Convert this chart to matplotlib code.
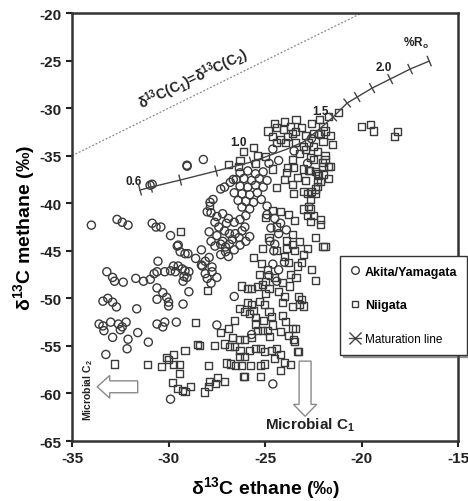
import numpy as np
import matplotlib
matplotlib.use("Agg")
import matplotlib.pyplot as plt
from matplotlib.lines import Line2D
from matplotlib.patches import FancyArrow

plt.rcParams["font.family"] = ["Liberation Sans", "DejaVu Sans"]
plt.rcParams["font.weight"] = "bold"
plt.rcParams["axes.unicode_minus"] = False
plt.rcParams["mathtext.fontset"] = "custom"
plt.rcParams["mathtext.rm"] = "Liberation Sans:bold"
plt.rcParams["mathtext.bf"] = "Liberation Sans:bold"
plt.rcParams["mathtext.it"] = "Liberation Sans:bold"
plt.rcParams["mathtext.default"] = "bf"

# --- data: d13C ethane (x) vs d13C methane (y) ---
akita = [
    (-34.0, -42.3), (-32.67, -41.7), (-32.4, -42.0), (-32.1, -42.3),
    (-30.85, -42.1), (-30.65, -42.5), (-30.4, -42.5), (-29.9, -43.4), (-29.5, -44.4),
    (-30.85, -38.0), (-30.96, -38.1), (-29.05, -36.0), (-28.2, -35.4), (-29.04, -36.1),
    (-27.85, -39.9), (-27.7, -39.6), (-28.0, -40.9),
    (-27.3, -38.5), (-27.1, -38.3), (-26.8, -37.8), (-26.65, -37.5),
    (-29.55, -44.5), (-29.4, -45.1), (-29.15, -45.3), (-29.0, -45.3), (-30.55, -46.1),
    (-33.2, -47.2), (-32.9, -47.8), (-32.8, -48.2), (-32.35, -48.3),
    (-31.7, -47.9), (-31.3, -48.2), (-30.95, -48.0), (-30.75, -47.4), (-30.6, -47.2),
    (-30.2, -47.2), (-29.9, -47.1), (-29.65, -47.2), (-29.75, -46.6), (-29.5, -46.6),
    (-29.3, -46.9), (-29.15, -47.1), (-28.95, -47.2), (-29.05, -47.8), (-29.25, -48.2),
    (-29.2, -47.7), (-30.6, -48.9), (-30.3, -49.4), (-30.1, -49.9), (-30.0, -50.4),
    (-30.0, -50.8), (-30.6, -50.1), (-29.25, -50.6), (-28.95, -49.3),
    (-33.4, -50.3), (-33.15, -50.0), (-32.9, -50.4), (-32.7, -50.9), (-31.65, -51.1),
    (-33.6, -52.7), (-33.4, -52.9), (-33.35, -53.4), (-33.0, -52.5),
    (-32.6, -52.7), (-32.4, -53.0), (-32.2, -52.5), (-32.5, -53.3),
    (-32.9, -54.1), (-32.1, -54.3), (-31.6, -53.6), (-31.05, -54.6), (-32.15, -55.3),
    (-33.25, -55.9), (-30.6, -52.7), (-30.3, -53.0), (-30.2, -52.5), (-29.6, -52.5),
    (-29.9, -60.6), (-27.5, -52.8), (-24.6, -59.0), (-24.4, -48.2),
    (-27.75, -46.7), (-28.1, -46.1), (-27.9, -45.7), (-28.25, -46.6), (-27.75, -47.2),
    (-27.5, -47.8), (-28.1, -47.4),
    (-27.4, -42.5), (-27.1, -42.9), (-26.85, -43.2), (-27.2, -44.0), (-27.05, -44.6),
    (-27.3, -44.3), (-26.85, -44.3), (-26.7, -43.8), (-27.6, -44.5), (-27.05, -45.1),
    (-26.55, -43.2), (-26.35, -43.6), (-26.2, -42.9), (-26.05, -42.5),
    (-24.75, -44.0), (-24.5, -44.3), (-24.55, -45.0), (-26.6, -49.8), (-24.6, -34.3),
    (-26.3, -36.8), (-25.9, -36.6), (-25.5, -36.9), (-25.1, -36.7), (-26.5, -37.5),
    (-26.1, -37.4), (-25.7, -37.6), (-25.3, -37.4), (-24.9, -37.6), (-26.3, -38.2),
    (-25.9, -38.3), (-25.5, -38.1), (-25.1, -38.3), (-26.6, -38.9), (-26.2, -39.0),
    (-25.8, -39.1), (-25.4, -38.9), (-26.4, -39.7), (-26.0, -39.8), (-25.6, -39.9),
    (-25.2, -39.6), (-26.2, -40.4), (-25.8, -40.6), (-24.9, -40.3), (-24.3, -35.5),
    (-24.8, -35.8),
    (-27.8, -41.0), (-27.5, -41.4), (-27.2, -41.1), (-26.9, -41.6), (-27.6, -42.0),
    (-27.0, -42.1), (-26.6, -42.0), (-26.3, -41.7), (-26.0, -41.3), (-27.9, -43.0),
    (-27.5, -43.4), (-26.3, -44.4), (-26.0, -44.0), (-25.8, -43.5), (-26.6, -44.9),
    (-27.3, -45.4), (-26.9, -45.6), (-27.8, -44.0), (-28.3, -44.9), (-28.6, -45.8),
    (-28.3, -46.5), (-28.0, -47.9), (-27.8, -48.4),
    (-24.9, -41.2), (-24.5, -41.6), (-24.2, -42.1), (-24.7, -42.6), (-24.3, -43.2),
    (-23.9, -42.8), (-24.6, -46.4), (-24.3, -47.0), (-24.0, -46.2), (-24.8, -47.6),
    (-25.7, -53.8), (-22.6, -33.2), (-22.2, -32.8), (-23.5, -34.5), (-22.8, -35.8),
]

niigata = [
    (-29.4, -43.0), (-27.9, -40.2), (-21.9, -44.5), (-25.6, -45.7), (-23.3, -55.6),
    (-26.05, -58.2), (-25.25, -58.2), (-23.1, -50.1), (-23.2, -50.6), (-23.45, -53.2),
    (-23.55, -54.3),
    (-32.8, -56.9), (-31.1, -57.0), (-30.35, -57.2), (-30.1, -56.2), (-29.75, -55.9),
    (-30.0, -56.4), (-29.75, -57.0), (-29.45, -57.0), (-29.45, -57.9), (-29.15, -55.5),
    (-29.8, -58.8), (-29.55, -59.5), (-29.3, -59.7), (-29.15, -59.8), (-28.85, -59.3),
    (-28.5, -54.9), (-28.6, -52.5), (-28.0, -49.2), (-27.95, -57.1),
    (-28.15, -59.85), (-27.95, -59.3), (-27.9, -58.7), (-27.55, -59.0), (-27.45, -58.3),
    (-27.1, -58.7), (-27.0, -56.8), (-27.1, -54.8), (-28.4, -55.0),
    (-26.1, -34.6), (-25.6, -34.1), (-25.4, -35.0),
    (-24.85, -32.4), (-24.4, -32.0), (-24.07, -32.2), (-23.7, -31.9), (-23.45, -32.5),
    (-24.6, -33.0), (-24.2, -33.25), (-23.85, -33.0), (-23.6, -32.7), (-24.4, -33.6),
    (-23.96, -33.6), (-23.45, -33.6),
    (-24.4, -38.3), (-23.55, -39.0), (-23.0, -38.8), (-22.6, -38.8), (-22.3, -38.2),
    (-22.15, -37.7), (-24.6, -36.4), (-23.85, -36.2), (-23.55, -36.2), (-23.0, -36.4),
    (-22.7, -36.6), (-22.3, -36.9), (-22.0, -36.1), (-21.6, -36.1),
    (-21.2, -30.5), (-20.0, -31.9), (-19.55, -31.7), (-19.4, -32.4), (-18.15, -32.5),
    (-18.3, -33.0), (-22.0, -31.9), (-21.9, -32.4), (-21.6, -32.9), (-22.15, -32.7),
    (-22.5, -32.7), (-23.0, -34.0), (-22.75, -33.6), (-22.9, -34.3), (-22.5, -34.0),
    (-22.3, -34.6), (-21.9, -35.4), (-21.7, -36.1), (-22.05, -35.7), (-22.5, -35.4),
    (-22.65, -35.2), (-22.75, -36.6), (-22.4, -36.7), (-22.25, -37.1), (-22.3, -37.7),
    (-22.4, -38.5), (-22.4, -39.0), (-22.8, -39.0), (-22.65, -39.6), (-22.75, -40.3),
    (-23.0, -40.6), (-22.65, -40.6), (-22.5, -41.3), (-22.15, -41.7), (-22.8, -41.3),
    (-22.65, -41.9), (-22.15, -42.2), (-22.0, -44.5), (-23.1, -46.2), (-23.0, -50.8),
    (-25.15, -44.8), (-26.2, -48.7), (-25.9, -49.0), (-25.7, -49.0), (-25.4, -48.8),
    (-25.15, -48.5), (-25.0, -48.2), (-23.75, -48.7), (-23.25, -49.8), (-24.1, -50.4),
    (-23.6, -50.9), (-26.35, -51.1), (-26.05, -51.4), (-25.8, -51.6), (-25.6, -51.3),
    (-25.9, -50.4), (-25.7, -50.6), (-25.3, -50.3), (-25.05, -50.6), (-24.8, -51.4),
    (-24.65, -51.9), (-24.1, -51.8), (-23.95, -52.4), (-25.5, -52.7),
    (-26.8, -56.9), (-26.55, -57.1), (-26.2, -57.1), (-25.75, -57.1),
    (-25.25, -57.1), (-25.05, -56.9), (-26.1, -58.2),
    (-26.85, -55.1), (-26.6, -55.1), (-26.7, -54.1), (-26.35, -54.3), (-26.05, -54.3),
    (-25.7, -54.1), (-25.4, -53.4), (-25.15, -53.4), (-24.9, -53.4), (-24.75, -54.0),
    (-26.3, -55.5), (-26.35, -56.1), (-26.05, -56.1), (-25.8, -55.5), (-25.5, -55.3),
    (-25.25, -55.3), (-25.05, -55.6), (-24.65, -55.5), (-24.4, -55.3), (-24.2, -55.9),
    (-23.6, -53.2), (-23.5, -54.5), (-23.25, -55.6),
    (-25.0, -41.5), (-24.6, -40.8), (-24.2, -40.9), (-23.8, -41.2), (-23.5, -41.8),
    (-23.9, -43.9), (-23.6, -44.3), (-23.2, -44.0), (-23.5, -45.0), (-23.0, -45.4),
    (-24.0, -45.6), (-23.8, -46.2), (-23.3, -46.6), (-24.4, -45.0), (-25.2, -46.3),
    (-24.9, -47.0), (-24.5, -47.8), (-24.1, -48.3), (-23.7, -47.5), (-23.4, -47.8),
    (-25.3, -47.5), (-24.8, -49.0), (-24.3, -49.3), (-24.0, -49.8), (-25.0, -49.5),
    (-23.9, -44.8), (-22.8, -44.8), (-22.4, -43.6), (-24.8, -43.6), (-24.4, -42.5),
    (-23.6, -43.3), (-22.6, -47.0), (-22.4, -48.1),
    (-26.3, -35.5), (-25.5, -35.8), (-25.0, -35.1), (-23.2, -34.8), (-23.6, -35.4),
    (-23.9, -36.8), (-23.3, -37.3), (-22.9, -37.6), (-23.6, -38.0), (-24.0, -37.5),
    (-22.0, -37.0), (-21.7, -37.4), (-21.9, -35.0), (-22.0, -33.5), (-21.5, -33.8),
    (-22.6, -31.6), (-22.2, -31.2), (-21.7, -30.9), (-22.9, -32.9), (-23.1, -32.0),
    (-24.0, -31.4), (-24.5, -31.6), (-23.4, -31.2), (-26.9, -35.9), (-26.4, -36.1),
    (-25.5, -52.0), (-25.1, -52.3), (-24.6, -52.8), (-24.2, -53.5), (-23.8, -53.9),
    (-24.5, -56.3), (-24.0, -56.7), (-23.7, -57.0), (-24.2, -57.6), (-26.6, -52.3),
    (-26.9, -53.2), (-27.3, -53.6), (-27.6, -55.0),
]

akita_x = [p[0] for p in akita]
akita_y = [p[1] for p in akita]
niigata_x = [p[0] for p in niigata]
niigata_y = [p[1] for p in niigata]

# maturation line (vertices) and %Ro tick marks
mat_x = [-31.48, -30.91, -29.40, -27.54, -25.73, -23.86, -23.03, -22.31, -21.48,
         -20.75, -20.23, -19.46, -18.52, -17.49, -16.50]
mat_y = [-38.61, -38.30, -37.56, -36.61, -35.67, -34.30, -33.56, -32.41, -30.94,
         -29.46, -28.83, -27.89, -26.94, -25.89, -25.05]
tick_idx = [0, 1, 2, 3, 4, 8, 9, 10, 11, 12, 13, 14]
ro_labels = ["0.6", "1.0", "1.5", "2.0", "%R$_o$"]
ro_label_x = [-31.8, -26.4, -22.15, -18.83, -17.2]
ro_label_y = [-37.7, -33.6, -30.3, -25.7, -23.05]

xlim = (-35, -15)
ylim = (-65, -20)

fig = plt.figure(figsize=(4.68, 5.02), dpi=100)
ax = fig.add_axes([0.154, 0.1195, 0.825, 0.8525])
ax.set_xlim(*xlim)
ax.set_ylim(*ylim)

edge = "#3a3a3a"
ink = "#222222"
# C1 = C2 reference line
ax.plot(xlim, xlim, ls=(0, (1.5, 1.5)), color="#888888", lw=0.9)
ax.text(-28.7, -26.9, "δ$^{13}$C(C$_1$)=δ$^{13}$C(C$_2$)", fontsize=10,
        fontweight="bold", rotation=25.5, ha="center", va="center", color=ink)

ax.scatter(niigata_x, niigata_y, marker="s", s=26, facecolors="none",
           edgecolors=edge, linewidths=1.0, zorder=3)
ax.scatter(akita_x, akita_y, marker="o", s=34, facecolors="none",
           edgecolors=edge, linewidths=1.0, zorder=3)

# maturation line with perpendicular tick marks
ax.plot(mat_x, mat_y, color="#444444", lw=1.0, zorder=4)
to_disp = ax.transData
to_data = ax.transData.inverted()
pts = to_disp.transform(np.column_stack([mat_x, mat_y]))
for i in tick_idx:
    j0, j1 = max(i - 1, 0), min(i + 1, len(mat_x) - 1)
    d = pts[j1] - pts[j0]
    n = np.array([-d[1], d[0]]) / np.hypot(*d)
    seg = to_data.transform([pts[i] - 5 * n, pts[i] + 5 * n])
    ax.plot(seg[:, 0], seg[:, 1], color="#444444", lw=1.0, zorder=4)
for lab, lx, ly in zip(ro_labels, ro_label_x, ro_label_y):
    ax.text(lx, ly, lab, fontsize=8.5, fontweight="bold", ha="center",
            va="center", color=ink)

# microbial arrows
ax.add_patch(FancyArrow(-31.6, -59.3, -2.1, 0, width=1.25, head_width=2.4,
                        head_length=0.65, length_includes_head=True,
                        fc="white", ec="#8a8a8a", lw=1.0))
ax.text(-34.17, -59.5, "Microbial C$_2$", rotation=90, fontsize=7.5,
        fontweight="bold", ha="center", va="center", color=ink)
ax.add_patch(FancyArrow(-22.93, -56.6, 0, -5.8, width=0.62, head_width=1.2,
                        head_length=1.25, length_includes_head=True,
                        fc="white", ec="#8a8a8a", lw=1.0))
ax.text(-22.7, -63.2, "Microbial C$_1$", fontsize=11, fontweight="bold",
        ha="center", va="center", color=ink)

# legend
handles = [
    Line2D([], [], ls="none", marker="o", ms=5.5, mfc="none", mec=edge, mew=1.0),
    Line2D([], [], ls="none", marker="s", ms=5, mfc="none", mec=edge, mew=1.0),
    Line2D([], [], color="#444444", lw=0.9, marker="x", ms=8, mec="#444444"),
]
leg = ax.legend(handles, ["Akita/Yamagata", "Niigata", "Maturation line"],
                loc="upper left", bbox_to_anchor=(0.694, 0.432),
                prop={"size": 9, "weight": "bold"},
                frameon=True, fancybox=False, shadow=True, edgecolor="#333333",
                handlelength=0.9, handletextpad=0.35, labelspacing=1.75,
                borderpad=0.75, borderaxespad=0.0)
leg.get_frame().set_linewidth(1.0)
leg.get_texts()[2].set_fontweight("normal")
leg.get_texts()[2].set_fontsize(8.5)

for s in ax.spines.values():
    s.set_linewidth(1.8)
    s.set_color("#333333")
ax.set_xticks([-35, -30, -25, -20, -15])
ax.set_yticks(np.arange(-65, -19, 5))
ax.tick_params(direction="out", length=4, width=1.5, labelsize=11, colors=ink)
for t in ax.get_xticklabels() + ax.get_yticklabels():
    t.set_fontweight("bold")
ax.set_xlabel("δ$^{13}$C ethane (‰)", fontsize=14, fontweight="bold", labelpad=6)
ax.set_ylabel("δ$^{13}$C methane (‰)", fontsize=14, fontweight="bold", labelpad=2)

fig.savefig("out.png", dpi=100)
